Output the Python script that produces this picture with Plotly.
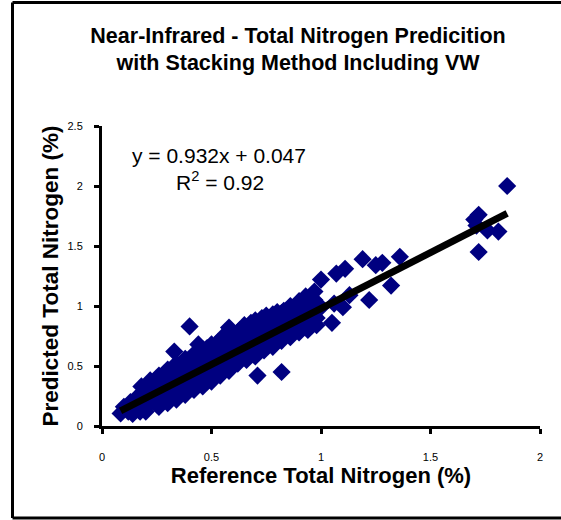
import plotly.graph_objects as go

# Reference vs predicted total nitrogen (%)
ref_n = [
    0.085, 0.10, 0.12, 0.13, 0.15, 0.16, 0.17, 0.174, 0.18, 0.19, 0.20, 0.21, 0.22, 0.22, 0.23,
    0.24, 0.24, 0.25, 0.26, 0.27, 0.27, 0.28, 0.29, 0.30, 0.30, 0.31, 0.32, 0.32, 0.33, 0.33,
    0.34, 0.35, 0.35, 0.36, 0.37, 0.37, 0.38, 0.38, 0.39, 0.40, 0.40, 0.41, 0.42, 0.42, 0.43,
    0.43, 0.44, 0.44, 0.45, 0.45, 0.46, 0.47, 0.47, 0.48, 0.48, 0.49, 0.50, 0.50, 0.51, 0.52,
    0.52, 0.53, 0.53, 0.54, 0.55, 0.55, 0.56, 0.57, 0.57, 0.58, 0.58, 0.59, 0.60, 0.60, 0.61,
    0.62, 0.62, 0.63, 0.63, 0.64, 0.65, 0.65, 0.66, 0.67, 0.67, 0.68, 0.68, 0.69, 0.70, 0.70,
    0.71, 0.72, 0.72, 0.73, 0.73, 0.74, 0.75, 0.75, 0.76, 0.77, 0.77, 0.78, 0.78, 0.79, 0.80,
    0.80, 0.81, 0.82, 0.82, 0.83, 0.84, 0.85, 0.86, 0.86, 0.87, 0.88, 0.89, 0.90, 0.90, 0.91,
    0.92, 0.93, 0.94, 0.95, 0.96, 0.97, 0.98, 1.00, 1.00, 1.05, 1.06, 1.07, 1.10, 1.11, 1.13,
    1.19, 1.22, 1.25, 1.28, 1.32, 1.36, 1.70, 1.72, 1.71, 1.76, 1.81, 1.72, 1.85,
    0.40, 0.71, 0.82, 0.33,
    0.14, 0.20, 0.26, 0.30, 0.34, 0.38, 0.42, 0.46, 0.50, 0.54, 0.58, 0.62, 0.66, 0.70, 0.74,
    0.78, 0.82, 0.86, 0.90, 0.94, 0.98,
    0.18, 0.22, 0.26, 0.30, 0.34, 0.38, 0.42, 0.46, 0.50, 0.54, 0.58, 0.62, 0.66, 0.70, 0.74,
    0.78, 0.82, 0.86, 0.90, 0.94, 0.97,
]
pred_n = [
    0.105, 0.16, 0.12, 0.20, 0.17, 0.24, 0.13, 0.12, 0.21, 0.28, 0.17, 0.25, 0.31, 0.19, 0.22,
    0.35, 0.27, 0.18, 0.30, 0.24, 0.38, 0.21, 0.33, 0.27, 0.42, 0.23, 0.36, 0.30, 0.45, 0.26,
    0.39, 0.33, 0.50, 0.28, 0.42, 0.35, 0.52, 0.31, 0.45, 0.38, 0.56, 0.33, 0.48, 0.41, 0.58,
    0.36, 0.51, 0.68, 0.44, 0.62, 0.39, 0.54, 0.47, 0.65, 0.42, 0.57, 0.50, 0.68, 0.45, 0.60,
    0.53, 0.70, 0.48, 0.63, 0.56, 0.74, 0.51, 0.66, 0.59, 0.82, 0.53, 0.70, 0.62, 0.77, 0.56,
    0.72, 0.65, 0.80, 0.58, 0.75, 0.68, 0.84, 0.61, 0.78, 0.71, 0.86, 0.64, 0.80, 0.73, 0.88,
    0.66, 0.83, 0.76, 0.90, 0.69, 0.85, 0.78, 0.92, 0.72, 0.87, 0.81, 0.93, 0.74, 0.88, 0.82,
    0.95, 0.76, 0.90, 0.84, 0.96, 0.79, 0.92, 0.86, 1.00, 0.81, 0.95, 0.89, 1.04, 0.84, 0.97,
    0.91, 1.08, 0.87, 1.01, 0.94, 1.12, 0.90, 0.99, 1.22, 0.86, 1.02, 1.27, 0.99, 1.31, 1.09,
    1.39, 1.05, 1.34, 1.36, 1.17, 1.41, 1.72, 1.76, 1.67, 1.63, 1.62, 1.45, 2.00,
    0.83, 0.42, 0.45, 0.62,
    0.10, 0.12, 0.16, 0.19, 0.22, 0.26, 0.30, 0.33, 0.37, 0.42, 0.46, 0.52, 0.55, 0.58, 0.63,
    0.66, 0.71, 0.74, 0.78, 0.80, 0.84,
    0.33, 0.38, 0.42, 0.47, 0.52, 0.56, 0.60, 0.64, 0.62, 0.70, 0.72, 0.78, 0.82, 0.83, 0.88,
    0.90, 0.94, 0.96, 1.00, 1.02, 1.05,
]

# Linear trendline as reported on the chart
slope = 0.932
intercept = 0.047
r_squared = 0.92
trend_x = [min(ref_n), max(ref_n)]
trend_y = [slope * v + intercept for v in trend_x]

x_ticks = [0, 0.5, 1, 1.5, 2]
y_ticks = [0, 0.5, 1, 1.5, 2, 2.5]

W, H = 561, 520
ML, MR, MT, MB = 102, 21, 126, 94
PW, PH = W - ML - MR, H - MT - MB

fig = go.Figure()
fig.add_trace(go.Scatter(
    x=ref_n, y=pred_n, mode="markers",
    marker=dict(symbol="diamond", size=14, color="#000080", line=dict(width=0)),
    showlegend=False, hoverinfo="x+y",
))
fig.add_trace(go.Scatter(
    x=trend_x, y=trend_y, mode="lines",
    line=dict(color="black", width=7),
    showlegend=False, hoverinfo="skip",
))

font = "Arial, Liberation Sans, sans-serif"

# chart-area border (left, top, bottom; right edge lies outside the picture)
bx0 = (12.5 - ML) / PW
bx1 = (600 - ML) / PW
by0 = (H - MB - 518) / PH
by1 = (H - MB - 2.5) / PH
border = dict(color="black", width=3)
shapes = [
    dict(type="line", xref="paper", yref="paper", x0=bx0, x1=bx0, y0=by0, y1=by1, line=border),
    dict(type="line", xref="paper", yref="paper", x0=bx0, x1=bx1, y0=by1, y1=by1, line=border),
    dict(type="line", xref="paper", yref="paper", x0=bx0, x1=bx1, y0=by0, y1=by0, line=border),
]

fig.update_layout(
    width=W, height=H,
    margin=dict(l=ML, r=MR, t=MT, b=MB),
    paper_bgcolor="white", plot_bgcolor="white",
    font=dict(family=font, color="black"),
    title=dict(
        text="<b>Near-Infrared - Total Nitrogen Predicition<br>with Stacking Method Including VW</b>",
        x=298 / W, xanchor="center", y=1 - 42.5 / H, yanchor="middle",
        font=dict(size=21.5, family=font, color="black"),
    ),
    xaxis=dict(
        range=[0, 2], tickvals=x_ticks, ticktext=[str(v) for v in x_ticks],
        showgrid=False, zeroline=False, showline=True, linecolor="black", linewidth=3,
        ticks="outside", ticklen=5, tickwidth=3, tickcolor="black",
        tickfont=dict(size=11, family=font), ticklabelstandoff=14,
        title=dict(text="<b>Reference Total Nitrogen (%)</b>", font=dict(size=22, family=font), standoff=4),
    ),
    yaxis=dict(
        range=[0, 2.5], tickvals=y_ticks, ticktext=[str(v) for v in y_ticks],
        showgrid=False, zeroline=False, showline=True, linecolor="black", linewidth=3,
        ticks="outside", ticklen=5, tickwidth=3, tickcolor="black",
        tickfont=dict(size=11, family=font), ticklabelstandoff=9,
        title=dict(text="<b>Predicted Total Nitrogen (%)</b>", font=dict(size=22.5, family=font), standoff=3),
    ),
    shapes=shapes,
    annotations=[
        dict(text=f"y = {slope}x + {intercept}", xref="paper", yref="paper",
             x=(219 - ML) / PW, y=(H - MB - 155) / PH, xanchor="center", yanchor="middle",
             showarrow=False, font=dict(size=21, family=font, color="black")),
        dict(text=f"R<sup>2</sup> = {r_squared}", xref="paper", yref="paper",
             x=(220 - ML) / PW, y=(H - MB - 181) / PH, xanchor="center", yanchor="middle",
             showarrow=False, font=dict(size=21, family=font, color="black")),
    ],
)

fig.write_html(
    "out.html",
    config={"displayModeBar": False},
    post_script=(
        "document.documentElement.style.overflow='hidden';"
        "document.body.style.margin='0';document.body.style.overflow='hidden';"
    ),
)
